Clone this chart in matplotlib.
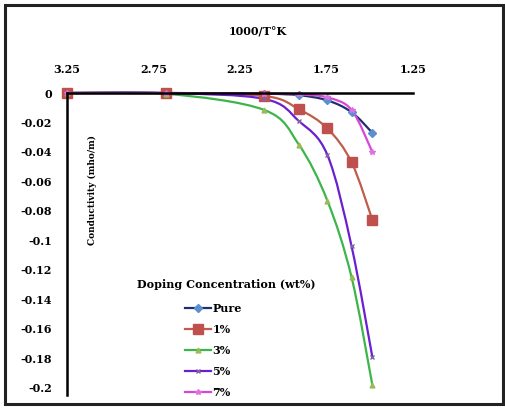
import numpy as np
import matplotlib
matplotlib.use("Agg")
import matplotlib.pyplot as plt
from matplotlib.path import Path
from matplotlib.patches import PathPatch, Rectangle
from matplotlib.lines import Line2D

# Dati (1000/T in K^-1, conducibilita' in mho/m)
inv_temp = [3.25, 2.68, 2.11, 1.91, 1.745, 1.605, 1.485]
pure = [0, 0, -0.0005, -0.0015, -0.005, -0.013, -0.027]
dop_1 = [0, 0, -0.002, -0.011, -0.024, -0.047, -0.086]
dop_3 = [0, -0.0005, -0.0115, -0.035, -0.073, -0.125, -0.198]
dop_5 = [0, 0, -0.004, -0.019, -0.042, -0.104, -0.179]
dop_7 = [0, 0, -0.0005, -0.001, -0.003, -0.0115, -0.040]

series_names = ["Pure", "1%", "3%", "5%", "7%"]
x_ticks = [3.25, 2.75, 2.25, 1.75, 1.25]
y_ticks = [0, -0.02, -0.04, -0.06, -0.08, -0.1, -0.12, -0.14, -0.16, -0.18, -0.2]

styles = [
    dict(line="#1f2f6e", mfc="#5b8fd0", marker="D", ms=4),
    dict(line="#bf5d4a", mfc="#c0504d", marker="s", ms=7),
    dict(line="#3cb54a", mfc="#9bbb59", marker="^", ms=3.5),
    dict(line="#6a1fd0", mfc="#8064a2", marker="x", ms=3),
    dict(line="#d846d8", mfc="#e070e0", marker="*", ms=4),
]


def smooth_path(x, y):
    # curva liscia tipo Excel (Catmull-Rom -> Bezier)
    pts = np.column_stack([x, y]).astype(float)
    verts = [pts[0]]
    codes = [Path.MOVETO]
    for i in range(len(pts) - 1):
        p0 = pts[i - 1] if i > 0 else pts[i]
        p1, p2 = pts[i], pts[i + 1]
        p3 = pts[i + 2] if i + 2 < len(pts) else pts[i + 1]
        verts += [p1 + (p2 - p0) / 6, p2 - (p3 - p1) / 6, p2]
        codes += [Path.CURVE4] * 3
    return Path(verts, codes)


fig = plt.figure(figsize=(5.05, 4.09), dpi=100)
ax = fig.add_axes([67 / 505, 1 - 395 / 409, 346 / 505, 302 / 409])

font = dict(family="DejaVu Serif", weight="bold")
handles = []
for name, vals, st in zip(series_names, [pure, dop_1, dop_3, dop_5, dop_7], styles):
    ax.add_patch(PathPatch(smooth_path(inv_temp, vals), fill=False,
                           edgecolor=st["line"], lw=1.6, clip_on=False))
    ax.plot(inv_temp, vals, linestyle="none", marker=st["marker"], ms=st["ms"],
            mfc=st["mfc"], mec=st["mfc"], clip_on=False)
    handles.append(Line2D([], [], color=st["line"], lw=1.6, marker=st["marker"],
                          ms=st["ms"], mfc=st["mfc"], mec=st["mfc"]))

ax.set_xlim(3.25, 1.25)
ax.set_ylim(-0.2048, 0)
ax.spines["right"].set_visible(False)
ax.spines["bottom"].set_visible(False)
ax.spines["top"].set_linewidth(1.8)
ax.spines["left"].set_linewidth(1.8)
ax.xaxis.tick_top()
ax.set_xticks(x_ticks)
ax.set_xticklabels([f"{v:.2f}" for v in x_ticks], fontsize=8, **font)
ax.set_yticks(y_ticks)
ax.set_yticklabels(["0" if v == 0 else f"{v:g}" for v in y_ticks], fontsize=8, **font)
ax.tick_params(axis="x", length=0, pad=13)
ax.tick_params(axis="y", length=0, pad=11)
ax.set_facecolor("none")

fig.text(258 / 505, 1 - 32 / 409, "1000/T°K", ha="center", va="center", fontsize=8, **font)
fig.text(92 / 505, 1 - 190 / 409, "Conductivity (mho/m)", rotation=90,
         ha="center", va="center", fontsize=6.5, **font)

# titolo della legenda separato, le voci sotto
fig.text(226 / 505, 1 - 284 / 409, "Doping Concentration (wt%)", ha="center", va="center",
         fontsize=8, **font)
fig.legend(handles, series_names, loc="upper left",
           bbox_to_anchor=(185 / 505, 1 - 303 / 409), frameon=False,
           handlelength=2.3, handletextpad=0.15, labelspacing=0.9,
           borderpad=0, borderaxespad=0,
           prop=dict(family="DejaVu Serif", weight="bold", size=8))

fig.patches.append(Rectangle((5 / 505, 5 / 409), 498 / 505, 399 / 409, transform=fig.transFigure,
                             fill=False, edgecolor="#222222", lw=2.2))

fig.savefig("out.png", dpi=100)
